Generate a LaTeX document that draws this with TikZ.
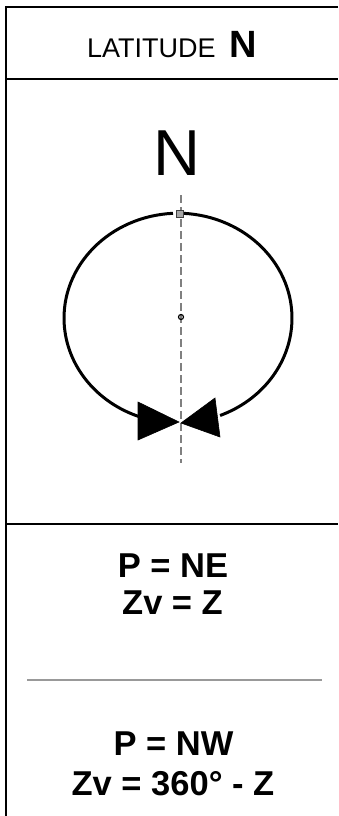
\documentclass[tikz,border=0pt]{standalone}
\usepackage{fontspec}
\setmainfont{Liberation Sans}
\begin{document}
\begin{tikzpicture}[x=1pt,y=-1pt,
  border/.style={line width=2.6pt,black},
  sepline/.style={line width=2pt,black!40},
  axisline/.style={line width=1.3pt,black!50,dash pattern=on 8pt off 4pt},
  orbit/.style={line width=3pt,black},
  tri/.style={fill=black,draw=black,line width=0.6pt,line join=miter},
  formula/.style={anchor=base,inner sep=0pt,font=\fontsize{34.5}{40}\selectfont\bfseries}]
\useasboundingbox (0,0) rectangle (338,816);
% frame
\draw[border] (338,7) -- (6,7) -- (6,816);
\draw[border] (6,79) -- (338,79);
\draw[border] (6,524) -- (338,524);
\draw[sepline] (27,680) -- (322,680);
% header
\node[anchor=base,inner sep=0pt] (head) at (172,58)
  {{\fontsize{27}{32}\selectfont LATITUDE}\hspace{14pt}{\fontsize{38}{44}\selectfont\bfseries N}};
% diagram
\node[anchor=base,inner sep=0pt,font=\fontsize{65}{70}\selectfont] (north) at (177,175) {N};
\draw[axisline] (181,195) -- (181,463);
\draw[orbit] (173,213.3) arc[start angle=-93,end angle=-250,x radius=115,y radius=105];
\draw[orbit] (183,213.3) arc[start angle=-87,end angle=68,x radius=115,y radius=105];
\draw[draw=black!75,fill=black!35,line width=1pt] (176.5,210) rectangle (183,217);
\draw[line width=1.2pt] (181,317) circle[radius=2.5];
\draw[tri] (138,402) -- (179,422) -- (138,440) -- cycle;
\draw[tri] (215,398) -- (181,423) -- (220,437) -- cycle;
% formulas
\node[formula] (f1) at (173,577) {P = NE};
\node[formula] (f2) at (172.5,614) {Zv = Z};
\node[formula] (f3) at (173.5,755) {P = NW};
\node[formula] (f4) at (173,795) {Zv = 360° - Z};
\end{tikzpicture}
\end{document}
